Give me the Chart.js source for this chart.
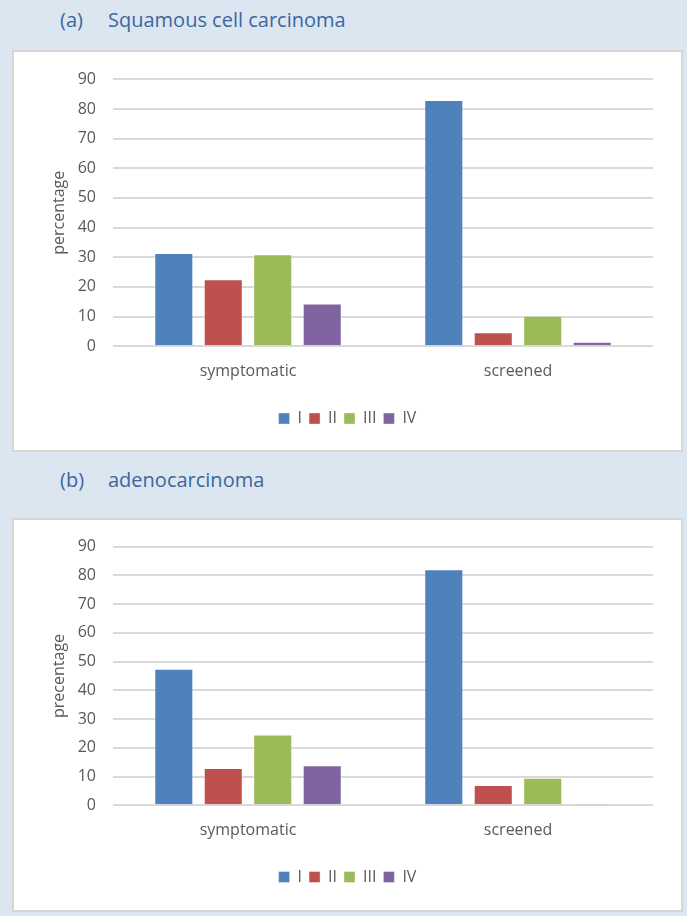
<!DOCTYPE html>
<html>
<head>
<meta charset="utf-8">
<script src="https://cdn.jsdelivr.net/npm/chart.js@4/dist/chart.umd.min.js"></script>
<style>
  body {
    margin: 0;
    width: 687px;
    height: 916px;
    overflow: hidden;
    background: #dce6f1;
    font-family: "Open Sans", sans-serif;
  }
  .heading {
    position: absolute;
    left: 60px;
    font-size: 20px;
    color: #3b679e;
    white-space: nowrap;
  }
  .heading span { display: inline-block; width: 48px; }
  .panel {
    position: absolute;
    left: 12px;
    width: 671px;
    background: #fff;
    border: 2px solid #d6d6d6;
    box-sizing: border-box;
  }
  .panel canvas { position: absolute; left: 0; top: 0; }
</style>
</head>
<body>
<div class="heading" style="top:6px"><span>(a)</span>Squamous cell carcinoma</div>
<div class="panel" style="top:50px;height:402px">
  <canvas id="squamousChart" width="667" height="398"></canvas>
</div>
<div class="heading" style="top:466px"><span>(b)</span>adenocarcinoma</div>
<div class="panel" style="top:518px;height:394px">
  <canvas id="adenoChart" width="667" height="390"></canvas>
</div>
<script>
const categories = ["symptomatic", "screened"];
const stageLabels = ["I", "II", "III", "IV"];
const stageColors = ["#4f81bd", "#c0504d", "#9bbb59", "#8064a2"];
const yTicks = [0, 10, 20, 30, 40, 50, 60, 70, 80, 90];

// (a) squamous cell carcinoma, percentage by stage
const squamousI = [31.4, 83.0];
const squamousII = [22.6, 4.7];
const squamousIII = [31.0, 10.3];
const squamousIV = [14.4, 1.5];

// (b) adenocarcinoma, percentage by stage
const adenoI = [47.5, 82.1];
const adenoII = [13.0, 7.1];
const adenoIII = [24.6, 9.6];
const adenoIV = [13.9, 0.5];

const tickFont = { family: "'Open Sans', sans-serif", size: 16 };
const textColor = "#595959";

function makeChart(id, series, axisTitle, padTop, padBottom, xAxisHeight) {
  const ctx = document.getElementById(id).getContext("2d");
  return new Chart(ctx, {
    type: "bar",
    data: {
      labels: categories,
      datasets: series.map((values, i) => ({
        label: stageLabels[i],
        data: values,
        backgroundColor: stageColors[i],
        borderColor: "rgba(255,255,255,0.35)",
        borderWidth: 1,
        categoryPercentage: 0.733,
        barPercentage: 0.79,
      })),
    },
    options: {
      responsive: false,
      animation: false,
      // symmetric side padding keeps the legend centred in the panel
      layout: { padding: { top: padTop, right: 28, bottom: padBottom, left: 28 } },
      plugins: {
        tooltip: { enabled: false },
        legend: {
          position: "bottom",
          labels: {
            boxWidth: 11,
            boxHeight: 11,
            padding: 7,
            color: textColor,
            font: tickFont,
          },
        },
      },
      scales: {
        x: {
          grid: { display: false },
          border: { display: false },
          ticks: { color: textColor, font: tickFont, padding: 7.5 },
          afterFit: (scale) => { scale.height = xAxisHeight; },
        },
        y: {
          min: 0,
          max: 90,
          afterBuildTicks: (scale) => { scale.ticks = yTicks.map((v) => ({ value: v })); },
          grid: { color: "#d9d9d9", lineWidth: 2, drawTicks: false },
          border: { display: false },
          ticks: { color: textColor, font: tickFont, padding: 17 },
          title: {
            display: true,
            text: axisTitle,
            color: textColor,
            font: tickFont,
            padding: { top: 8, bottom: 0 },
          },
          afterFit: (scale) => { scale.width = 71; },
        },
      },
    },
  });
}

makeChart("squamousChart", [squamousI, squamousII, squamousIII, squamousIV],
  "percentage", 27.3, 13.5, 57.3);
makeChart("adenoChart", [adenoI, adenoII, adenoIII, adenoIV],
  "precentage", 18.3, 15, 56.7);
</script>
</body>
</html>
